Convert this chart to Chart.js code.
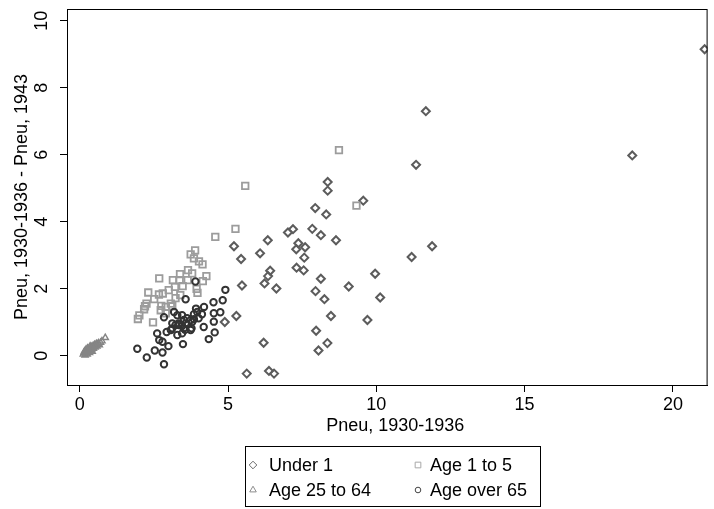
<!DOCTYPE html>
<html>
<head>
<meta charset="utf-8">
<script src="https://cdn.jsdelivr.net/npm/chart.js"></script>
<style>
  html, body { margin: 0; padding: 0; background: #fff; }
</style>
</head>
<body>
<canvas id="pneu_scatter" width="714" height="509"></canvas>
<script>
// values: [Pneu 1930-1936, difference to 1943]
const under1 = [
    [8.36, 5.19], [8.36, 4.93], [7.94, 4.41], [8.31, 4.22], [9.56, 4.63], [7.02, 3.68],
    [7.19, 3.78], [7.84, 3.79], [8.13, 3.60], [8.64, 3.45], [6.34, 3.45], [5.20, 3.27],
    [6.08, 3.06], [5.44, 2.89], [7.37, 3.36], [7.60, 3.24], [7.30, 3.18], [7.57, 2.93],
    [7.31, 2.63], [7.55, 2.55], [6.42, 2.54], [6.35, 2.38], [6.23, 2.16], [6.63, 2.01],
    [5.47, 2.10], [8.13, 2.30], [7.95, 1.93], [8.25, 1.69], [9.07, 2.07], [9.96, 2.45],
    [10.13, 1.74], [8.47, 1.19], [9.70, 1.07], [5.28, 1.19], [4.89, 1.01], [7.97, 0.75],
    [8.35, 0.38], [8.05, 0.16], [6.20, 0.39], [5.63, -0.53], [6.38, -0.45], [6.55, -0.53],
    [11.67, 7.30], [11.34, 5.70], [11.88, 3.27], [11.19, 2.95], [18.63, 5.98], [21.07, 9.15]
];

const age1to5 = [
    [8.74, 6.14], [5.58, 5.07], [9.33, 4.48], [5.25, 3.79], [4.57, 3.55], [3.89, 3.15],
    [3.74, 3.03], [3.85, 2.91], [4.02, 2.82], [4.14, 2.73], [3.65, 2.56], [3.38, 2.44],
    [3.79, 2.46], [4.27, 2.38], [3.14, 2.26], [3.37, 2.26], [3.64, 2.26], [2.68, 2.31],
    [4.15, 2.23], [3.47, 2.08], [3.21, 2.06], [3.00, 1.96], [3.94, 2.00], [3.97, 1.88],
    [3.39, 1.81], [2.31, 1.89], [2.67, 1.83], [2.80, 1.86], [2.51, 1.69], [2.25, 1.56],
    [2.20, 1.48], [2.17, 1.39], [2.75, 1.49], [2.90, 1.46], [3.07, 1.56], [3.12, 1.48],
    [2.73, 1.36], [2.47, 1.00], [2.01, 1.21], [1.96, 1.10], [2.90, 1.27], [3.23, 1.72]
];

const age25to64 = [
    [0.12, 0.05], [0.15, 0.10], [0.18, 0.02], [0.20, 0.12], [0.22, 0.08], [0.24, 0.15],
    [0.25, 0.05], [0.27, 0.18], [0.28, 0.11], [0.30, 0.14], [0.31, 0.22], [0.33, 0.09],
    [0.34, 0.19], [0.36, 0.24], [0.37, 0.15], [0.39, 0.27], [0.40, 0.20], [0.42, 0.13],
    [0.43, 0.25], [0.45, 0.30], [0.46, 0.22], [0.48, 0.28], [0.50, 0.33], [0.52, 0.26],
    [0.54, 0.31], [0.56, 0.36], [0.58, 0.29], [0.60, 0.34], [0.63, 0.38], [0.66, 0.32],
    [0.70, 0.40], [0.75, 0.44], [0.86, 0.54], [0.16, 0.14], [0.21, 0.19], [0.26, 0.23],
    [0.35, 0.29]
];

const over65 = [
    [3.90, 2.22], [3.57, 1.69], [4.91, 1.97], [4.82, 1.66], [4.51, 1.60], [4.19, 1.46],
    [3.92, 1.41], [4.52, 1.27], [4.74, 1.30], [4.52, 1.02], [4.18, 0.86], [4.55, 0.70],
    [4.35, 0.50], [2.84, 1.15], [3.48, 0.35], [2.93, 0.71], [2.61, 0.67], [2.68, 0.47],
    [2.79, 0.42], [2.99, 0.29], [1.94, 0.21], [2.26, -0.05], [2.53, 0.16], [2.79, 0.10],
    [2.84, -0.25], [3.77, 0.82], [3.12, 0.82], [3.23, 0.92], [3.34, 0.92], [3.45, 0.67],
    [3.51, 0.82], [3.85, 1.09], [4.01, 1.12], [3.45, 0.89], [3.18, 1.31], [3.29, 1.21],
    [3.45, 1.21], [3.62, 1.12], [3.74, 1.07], [3.85, 1.24], [3.96, 1.31], [4.12, 1.24],
    [3.74, 0.77], [3.55, 0.78], [3.57, 0.97], [3.34, 0.97], [3.12, 0.97], [3.07, 0.77],
    [3.29, 0.62], [3.79, 1.01], [3.51, 1.07]
];

const xTicks = [0, 5, 10, 15, 20];
const yTicks = [0, 2, 4, 6, 8, 10];

const FONT = '"Liberation Sans", Arial, sans-serif';

function toPoints(rows) {
    return rows.map(r => ({x: r[0], y: r[1]}));
}

// legend slots (column, row) in the boxed legend below the plot
const legendSlots = [[0, 0], [1, 0], [0, 1], [1, 1]];

const stataLook = {
    id: 'stataLook',
    afterDraw(chart) {
        const ctx = chart.ctx;
        const a = chart.chartArea;
        const yScale = chart.scales.y;
        ctx.save();

        // plot frame
        ctx.strokeStyle = '#000';
        ctx.lineWidth = 1;
        ctx.strokeRect(a.left + 0.5, a.top + 0.5, a.right - a.left - 1, a.bottom - a.top);

        // rotated y tick labels
        ctx.fillStyle = '#000';
        ctx.font = '18px ' + FONT;
        ctx.textAlign = 'center';
        ctx.textBaseline = 'middle';
        yScale.ticks.forEach(t => {
            const py = yScale.getPixelForValue(t.value);
            ctx.save();
            ctx.translate(42, py);
            ctx.rotate(-Math.PI / 2);
            ctx.fillText(String(t.value), 0, 0);
            ctx.restore();
        });

        // axis titles
        ctx.save();
        ctx.translate(22, (a.top + a.bottom) / 2);
        ctx.rotate(-Math.PI / 2);
        ctx.fillText('Pneu, 1930-1936 - Pneu, 1943', 0, 0);
        ctx.restore();
        ctx.fillText('Pneu, 1930-1936', (a.left + a.right) / 2 + 8, 426);

        // legend box
        ctx.strokeStyle = '#000';
        ctx.strokeRect(245.5, 446.5, 295, 60);
        ctx.textAlign = 'left';
        chart.data.datasets.forEach((ds, i) => {
            const [col, row] = legendSlots[i];
            const mx = 253 + col * 165;
            const my = 465 + row * 25;
            ctx.strokeStyle = ds.legendColor;
            ctx.fillStyle = 'rgba(0,0,0,0)';
            Chart.helpers.drawPoint(ctx, {
                pointStyle: ds.pointStyle,
                radius: ds.legendRadius,
                rotation: 0,
                borderWidth: 1.1
            }, mx, my);
            ctx.fillStyle = '#000';
            ctx.fillText(ds.label, mx + (col === 0 ? 16 : 12), my + 1);
        });
        ctx.restore();
    }
};

new Chart(
    document.getElementById('pneu_scatter'),
    {
        type: 'scatter',
        data: {
            datasets: [
                {
                    label: 'Under 1',
                    data: toPoints(under1),
                    pointStyle: 'rectRot',
                    pointRadius: 4,
                    pointBorderWidth: 2,
                    borderColor: '#5c5c5c',
                    backgroundColor: 'rgba(0,0,0,0)',
                    legendColor: '#6a6a6a',
                    legendRadius: 3.8,
                    order: 4
                },
                {
                    label: 'Age 1 to 5',
                    data: toPoints(age1to5),
                    pointStyle: 'rect',
                    pointRadius: 4.6,
                    pointBorderWidth: 1.8,
                    borderColor: '#9c9c9c',
                    backgroundColor: 'rgba(0,0,0,0)',
                    legendColor: '#a8a8a8',
                    legendRadius: 4,
                    order: 3
                },
                {
                    label: 'Age 25 to 64',
                    data: toPoints(age25to64),
                    pointStyle: 'triangle',
                    pointRadius: 3.6,
                    pointBorderWidth: 1.4,
                    borderColor: '#858585',
                    backgroundColor: 'rgba(0,0,0,0)',
                    legendColor: '#8c8c8c',
                    legendRadius: 3.8,
                    order: 2
                },
                {
                    label: 'Age over 65',
                    data: toPoints(over65),
                    pointStyle: 'circle',
                    pointRadius: 3.2,
                    pointBorderWidth: 2,
                    borderColor: '#333333',
                    backgroundColor: 'rgba(0,0,0,0)',
                    legendColor: '#444444',
                    legendRadius: 2.8,
                    order: 1
                }
            ]
        },
        options: {
            responsive: false,
            animation: false,
            devicePixelRatio: 1,
            layout: {
                padding: {top: 9, right: 1, left: 0, bottom: 0}
            },
            plugins: {
                legend: {display: false},
                tooltip: {enabled: false}
            },
            scales: {
                x: {
                    type: 'linear',
                    min: -0.43,
                    max: 21.17,
                    afterFit: s => { s.height = 124; },
                    afterBuildTicks: s => { s.ticks = xTicks.map(v => ({value: v})); },
                    grid: {
                        display: true,
                        drawOnChartArea: false,
                        drawTicks: true,
                        tickLength: 7,
                        color: '#000'
                    },
                    border: {color: '#000', width: 1},
                    ticks: {
                        color: '#000',
                        padding: 2,
                        maxRotation: 0,
                        font: {family: FONT, size: 18}
                    }
                },
                y: {
                    type: 'linear',
                    min: -0.87,
                    max: 10.35,
                    afterFit: s => { s.width = 67; },
                    afterBuildTicks: s => { s.ticks = yTicks.map(v => ({value: v})); },
                    grid: {
                        display: true,
                        drawOnChartArea: false,
                        drawTicks: true,
                        tickLength: 7,
                        color: '#000'
                    },
                    border: {color: '#000', width: 1},
                    ticks: {display: false}
                }
            }
        },
        plugins: [stataLook]
    }
);
</script>
</body>
</html>
